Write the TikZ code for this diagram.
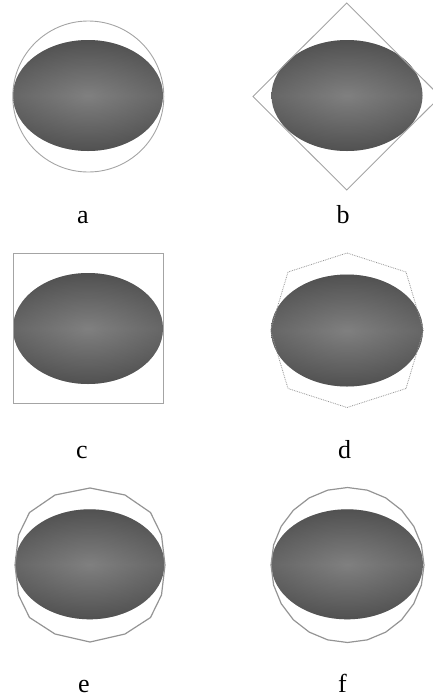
\documentclass[tikz,border=0pt]{standalone}
\usepackage{fontspec}
\setmainfont{Liberation Serif}
\definecolor{shadein}{HTML}{808080}
\definecolor{shadeout}{HTML}{383838}
\definecolor{hullgray}{HTML}{A4A4A4}
\definecolor{polygray}{HTML}{949494}
\pgfdeclareradialshading{eggshade}{\pgfpoint{0bp}{0bp}}{%
  color(0bp)=(shadein); color(50bp)=(shadeout); color(72bp)=(shadeout)}
\begin{document}
\begin{tikzpicture}[x=1pt,y=-1pt,
  egg/.style={shading=eggshade},
  band/.style={top color=shadeout,bottom color=shadeout,middle color=shadein,opacity=0.3},
  thinhull/.style={draw=hullgray,line width=0.9pt},
  dothull/.style={draw=polygray,line width=0.8pt,densely dotted},
  polyhull/.style={draw=polygray,line width=1.2pt,line join=round},
  caption/.style={font=\fontsize{26}{30}\selectfont,anchor=base,inner sep=0pt}]
\useasboundingbox (0,0) rectangle (433,697);
\clip (0,0) rectangle (433,697);

% (a) bounding circle
\shade[egg] (88,95.5) ellipse [x radius=75,y radius=55.5];
\shade[band] (88,95.5) ellipse [x radius=75,y radius=55.5];
\draw[thinhull] (88.3,96.5) circle [radius=75.5];
\node[caption] (la) at (83,223) {a};

% (b) oriented bounding box, turned by 45 degrees
\shade[egg] (347,95.5) ellipse [x radius=75.5,y radius=55.5];
\shade[band] (347,95.5) ellipse [x radius=75.5,y radius=55.5];
\coordinate (bt) at (346.7,3);
\coordinate (br) at (440.4,96.5);
\coordinate (bb) at (346.7,190);
\coordinate (bl) at (253,96.5);
\draw[thinhull] (bt) -- (br) -- (bb) -- (bl) -- cycle;
\node[caption] (lb) at (343,223) {b};

% (c) axis-aligned square box
\shade[egg] (88,328.5) ellipse [x radius=75,y radius=55.5];
\shade[band] (88,328.5) ellipse [x radius=75,y radius=55.5];
\draw[thinhull] (13,253) rectangle (163,403);
\node[caption] (lc) at (82,458) {c};

% (d) octagon
\shade[egg] (347,330.5) ellipse [x radius=76,y radius=56];
\shade[band] (347,330.5) ellipse [x radius=76,y radius=56];
\draw[dothull] (347,253) -- (406,272) -- (423.5,330.3) -- (406,388.5)
  -- (347,407.5) -- (288,388.5) -- (270.5,330.3) -- (288,272) -- cycle;
\node[caption] (ld) at (344.5,458) {d};

% (e) sixteen-sided hull
\shade[egg] (89.7,564.3) ellipse [x radius=74.7,y radius=55];
\shade[band] (89.7,564.3) ellipse [x radius=74.7,y radius=55];
\draw[polyhull] (90,488) -- ++(35,7) -- (150.5,512.5) -- (161.5,535)
  -- (165,565) -- (161.5,595) -- (150.5,617.5) -- (125,634)
  -- (90,642) -- (55,634) -- (29.5,617.5) -- (18.5,595)
  -- (15,565) -- (18.5,535) -- (29.5,512.5) -- (55,495) -- cycle;
\node[caption] (le) at (84,692) {e};

% (f) finer polygon close to a circle
\shade[egg] (347.2,564.3) ellipse [x radius=75.8,y radius=55];
\shade[band] (347.2,564.3) ellipse [x radius=75.8,y radius=55];
\draw[polyhull] plot[samples=25,domain=0:360,variable=\t]
  ({347.5+76.5*cos(\t)},{565+77.5*sin(\t)}) -- cycle;
\node[caption] (lf) at (342.5,692) {f};
\end{tikzpicture}
\end{document}
